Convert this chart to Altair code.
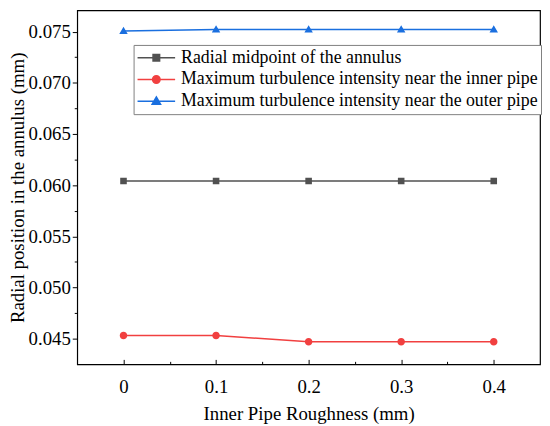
import altair as alt
import pandas as pd

# ---- data ----
roughness = [0, 0.1, 0.2, 0.3, 0.4]
midpoint = [0.0604, 0.0604, 0.0604, 0.0604, 0.0604]
inner_max = [0.0453, 0.0453, 0.0447, 0.0447, 0.0447]
outer_max = [0.07505, 0.0752, 0.0752, 0.0752, 0.0752]

series_names = [
    "Radial midpoint of the annulus",
    "Maximum turbulence intensity near the inner pipe",
    "Maximum turbulence intensity near the outer pipe",
]
series_colors = ["#515151", "#F14040", "#1A6FDF"]

x_major = [0, 0.1, 0.2, 0.3, 0.4]
x_minor = [0.05, 0.15, 0.25, 0.35]
y_major = [0.045, 0.05, 0.055, 0.06, 0.065, 0.07, 0.075]
y_minor = [0.0475, 0.0525, 0.0575, 0.0625, 0.0675, 0.0725]

# marker shapes with a line through them (line part only shows in the legend)
shape_paths = [
    "M-1,0H1M-0.175,-0.175H0.175V0.175H-0.175Z",
    "M-1,0H1M-0.2,0A0.2,0.2,0,1,1,0.2,0A0.2,0.2,0,1,1,-0.2,0Z",
    "M-1,0H1M0,-0.235L0.225,0.155H-0.225Z",
]

rows = []
for name, vals in zip(series_names, [midpoint, inner_max, outer_max]):
    for xv, yv in zip(roughness, vals):
        rows.append({"x": xv, "y": yv, "series": name})
df = pd.DataFrame(rows)

FONT = "Liberation Serif"
xscale = alt.Scale(domain=[-0.05, 0.45], nice=False, zero=False)
yscale = alt.Scale(domain=[0.04249, 0.07708], nice=False, zero=False)

base = alt.Chart(df)

main_x = alt.X("x:Q", scale=xscale, title="Inner Pipe Roughness (mm)",
               axis=alt.Axis(orient="bottom", values=x_major, offset=-5, tickSize=5,
                             domain=False, grid=False, labelPadding=13, titlePadding=9,
                             labelExpr="datum.value == 0 ? '0' : format(datum.value, '.1f')"))
main_y = alt.Y("y:Q", scale=yscale, title="Radial position in the annulus (mm)",
               axis=alt.Axis(orient="left", values=y_major, format=".3f", tickSize=5,
                             domain=False, grid=False, labelPadding=2, titlePadding=1))

line_layers = []
for i, (name, col) in enumerate(zip(series_names, series_colors)):
    if i == 0:
        enc = dict(x=main_x, y=main_y)
    else:
        enc = dict(x=alt.X("x:Q", scale=xscale, axis=None),
                   y=alt.Y("y:Q", scale=yscale, axis=None))
    line_layers.append(
        base.transform_filter(alt.datum.series == name)
        .mark_line(strokeWidth=1.5, color=col)
        .encode(**enc)
    )

leg = alt.Legend(
    title=None, orient="none", legendX=57, legendY=35,
    labelFont=FONT, labelFontSize=18, labelColor="black", labelLimit=500,
    labelOffset=5, symbolSize=1444, symbolStrokeWidth=1.5, symbolOpacity=1,
    clipHeight=20, rowPadding=2, padding=3,
    strokeColor="#7f7f7f", fillColor="white",
)

points = base.mark_point(filled=True, opacity=1, strokeWidth=0, size=1444).encode(
    x=alt.X("x:Q", scale=xscale, axis=None),
    y=alt.Y("y:Q", scale=yscale, axis=None),
    fill=alt.Fill("series:N", scale=alt.Scale(domain=series_names, range=series_colors), legend=leg),
    stroke=alt.Stroke("series:N", scale=alt.Scale(domain=series_names, range=series_colors), legend=leg),
    shape=alt.Shape("series:N", scale=alt.Scale(domain=series_names, range=shape_paths), legend=leg),
)

minor = base.mark_point(opacity=0).encode(
    x=alt.X("x:Q", scale=xscale, title=None,
            axis=alt.Axis(orient="bottom", values=x_minor, labels=False, offset=-3, tickSize=3,
                          domain=False, grid=False)),
    y=alt.Y("y:Q", scale=yscale, title=None,
            axis=alt.Axis(orient="left", values=y_minor, labels=False, tickSize=3,
                          domain=False, grid=False)),
)

chart = alt.layer(*line_layers, points, minor).resolve_axis(
    x="independent", y="independent"
).properties(
    width=468, height=358, autosize="none",
    padding={"left": 70, "top": 0, "right": 2, "bottom": 60},
).configure_view(
    stroke="black", strokeWidth=1.2
).configure_axis(
    labelFont=FONT, titleFont=FONT, labelFontSize=19, titleFontSize=19,
    titleFontWeight="normal", labelColor="black", titleColor="black",
    tickColor="black", tickWidth=1,
)

chart.save("out.html", embed_options={"renderer": "svg", "actions": False})
